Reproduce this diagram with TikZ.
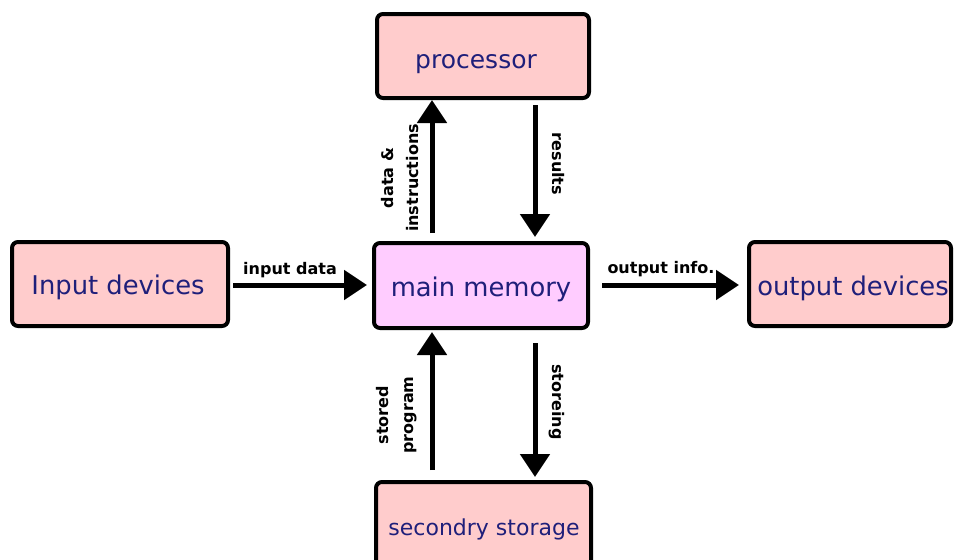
\documentclass[tikz,border=0pt]{standalone}
\usepackage{fontspec}
\setmainfont{DejaVu Sans}
\usetikzlibrary{arrows.meta,calc}
\definecolor{boxpink}{HTML}{FFCCCC}
\definecolor{mempink}{HTML}{FFCCFF}
\definecolor{navytext}{HTML}{1F1F7A}
\begin{document}
\begin{tikzpicture}[x=1pt,y=-1pt,
  box/.style={draw=black, line width=4pt, rounded corners=6pt, fill=boxpink,
    minimum width=212pt, minimum height=84pt, inner sep=0pt},
  boxtext/.style={text=navytext, font=\fontsize{25.8}{30}\selectfont, inner sep=0pt},
  arr/.style={line width=5pt, -{Triangle[width=29pt,length=23pt]}},
  lbl/.style={font=\fontsize{16}{25}\selectfont\bfseries, align=center, inner sep=0pt}]
\clip (0,0) rectangle (954,560);
\useasboundingbox (0,0) rectangle (954,560);

\node[box] (proc) at (483,56) {};
\node[box, fill=mempink, minimum width=214pt, minimum height=85pt] (mem) at (481,285.5) {};
\node[box, minimum width=216pt] (inp) at (120,284) {};
\node[box, minimum width=202pt] (outp) at (850,284) {};
\node[box, minimum width=215pt, minimum height=100pt] (sec) at (483.5,532) {};

\node[boxtext, font=\fontsize{25}{30}\selectfont] (proct) at (476,64) {processor};
\node[boxtext] (memt) at (481,289) {main memory};
\node[boxtext] (inpt) at (118,287) {Input devices};
\node[boxtext] (outpt) at (853,288) {output devices};
\node[boxtext, font=\fontsize{22}{26}\selectfont] (sect) at (484,529) {secondry storage};

\draw[arr] ($(inp.east)+(3,1)$) -- ($(inp.east -| mem.west)+(-5,1)$);
\draw[arr] ($(outp.west -| mem.east)+(12,1)$) -- ($(outp.west)+(-8,1)$);
\draw[arr] ($(mem.north)+(-49,-8)$) -- ($(mem.north |- proc.south)+(-49,0)$);
\draw[arr] ($(mem.north |- proc.south)+(54,5)$) -- ($(mem.north)+(54,-4)$);
\draw[arr] ($(mem.south |- sec.north)+(-49,-10)$) -- ($(mem.south)+(-49,2)$);
\draw[arr] ($(mem.south)+(54,13)$) -- ($(mem.south |- sec.north)+(54,-3)$);

\node[lbl] (l1) at (290,270) {input data};
\node[lbl] (l2) at (661,269) {output info.};
\node[lbl, rotate=90] (l3) at (400,178) {data \&\\instructions};
\node[lbl, rotate=-90] (l4) at (558,164) {results};
\node[lbl, rotate=90] (l5) at (397,415) {stored\\program};
\node[lbl, rotate=-90] (l6) at (557,402) {storeing};
\end{tikzpicture}
\end{document}
